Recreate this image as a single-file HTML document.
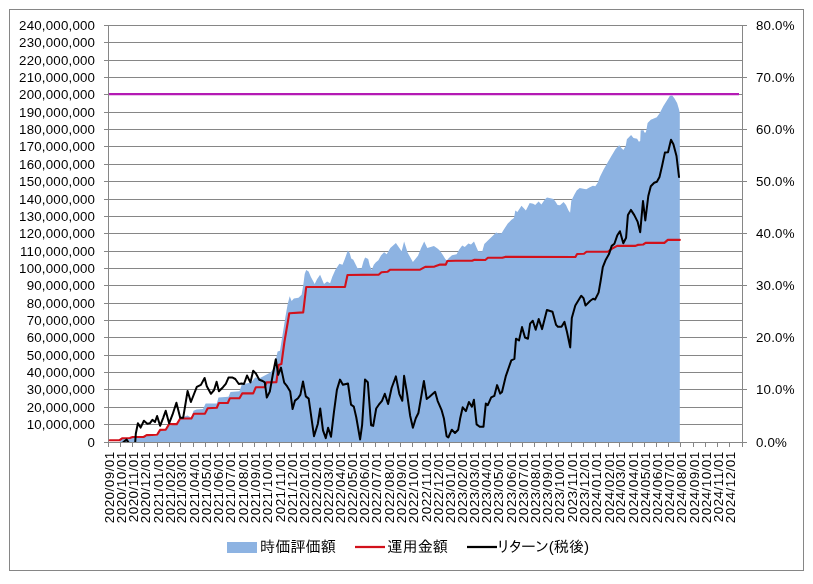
<!DOCTYPE html>
<html><head><meta charset="utf-8"><title>chart</title>
<style>html,body{margin:0;padding:0;background:#fff;}body{width:813px;height:584px;overflow:hidden;}svg{display:block;will-change:transform;}</style>
</head><body>
<svg width="813" height="584" viewBox="0 0 813 584"><defs><clipPath id="pa"><rect x="109" y="25" width="633" height="417"/></clipPath></defs><rect x="9.5" y="9.5" width="794" height="561" fill="#fff" stroke="#868686" stroke-width="1"/><path d="M104 25.5H743 M104 42.5H743 M104 60.5H743 M104 77.5H743 M104 94.5H743 M104 112.5H743 M104 129.5H743 M104 146.5H743 M104 164.5H743 M104 181.5H743 M104 199.5H743 M104 216.5H743 M104 233.5H743 M104 251.5H743 M104 268.5H743 M104 285.5H743 M104 303.5H743 M104 320.5H743 M104 337.5H743 M104 355.5H743 M104 372.5H743 M104 389.5H743 M104 407.5H743 M104 424.5H743 M104 442.5H743" stroke="#868686" stroke-width="1" fill="none" shape-rendering="crispEdges"/><polygon points="119.5,442.5 120.5,440.0 122.2,438.8 129.7,438.4 132.4,437.6 143.6,437.8 146.8,436.0 157.1,436.1 159.7,431.0 165.7,430.1 169.1,425.4 176.8,424.5 180.2,419.4 184.5,416.4 187.5,415.4 191.4,417.7 193.5,410.8 196.5,409.6 203.0,409.0 205.7,403.4 210.0,403.6 216.8,403.6 218.5,397.5 228.5,396.8 230.5,392.0 239.5,391.3 241.8,384.5 251.0,382.4 255.2,377.6 260.0,378.0 264.8,375.5 270.4,372.4 274.0,368.0 277.6,351.4 280.0,350.8 285.4,317.0 287.7,304.0 289.7,296.2 291.6,300.9 293.9,298.6 298.5,297.8 301.6,294.7 303.2,285.5 304.7,273.9 306.2,270.0 308.6,271.6 310.9,277.0 314.7,283.9 317.0,279.3 320.1,274.7 324.0,283.9 327.1,281.6 330.1,283.3 332.2,277.1 335.3,269.9 339.4,263.8 342.5,264.8 345.0,258.6 347.8,250.4 349.7,253.0 351.2,258.6 353.3,259.7 355.8,264.8 357.4,267.9 361.5,268.4 363.5,261.2 365.1,257.6 368.2,259.1 369.7,265.3 371.7,269.9 373.8,264.8 375.9,262.2 378.4,260.2 381.0,255.5 384.1,252.2 386.7,254.3 390.3,248.1 395.9,243.0 401.6,251.2 404.1,241.4 407.7,252.7 412.9,262.0 418.0,255.8 421.1,248.1 424.2,241.4 427.3,248.1 433.9,246.1 437.5,248.6 439.5,250.2 442.7,254.8 445.3,258.9 446.8,260.4 448.9,257.9 452.0,255.3 456.6,254.3 459.1,249.7 462.2,245.5 464.8,247.1 468.4,243.5 471.0,244.5 474.0,241.4 476.1,246.6 478.2,251.2 482.3,251.2 484.3,244.0 488.4,239.9 492.3,236.2 496.2,232.5 498.2,233.6 501.6,233.2 503.7,229.7 507.8,223.6 511.2,220.1 514.0,218.1 515.3,210.5 517.4,211.9 521.5,205.8 525.9,210.5 529.7,203.0 533.2,203.7 535.2,205.1 538.6,201.6 541.4,204.4 544.8,199.6 547.0,197.4 550.4,198.3 553.4,198.9 555.2,201.3 557.6,204.9 560.0,205.3 563.6,201.9 566.0,204.9 568.4,210.3 570.1,212.7 571.3,200.7 574.3,194.7 576.7,190.5 579.7,188.1 583.3,188.7 586.3,189.3 589.3,187.5 592.9,185.7 595.3,186.3 597.7,182.8 600.1,176.5 603.6,169.5 607.2,163.3 611.4,156.1 615.6,148.9 619.2,145.3 621.6,148.3 623.4,150.1 625.7,145.9 626.9,139.3 631.1,135.1 633.5,138.1 637.1,138.7 638.9,141.7 640.2,141.0 640.7,130.3 643.6,130.3 644.3,132.6 645.8,132.6 646.5,129.5 647.6,123.0 650.8,119.7 654.4,118.3 656.8,117.3 659.8,113.1 663.4,106.0 666.9,100.6 669.9,95.8 672.3,95.5 674.7,98.8 677.1,103.0 678.9,109.0 679.8,113.0 679.8,442.5" fill="#8DB3E2" stroke="none"/><path d="M108.5 25V443 M742.5 25V443 M108 442.5H743 M743 25.5H747 M743 77.5H747 M743 129.5H747 M743 181.5H747 M743 233.5H747 M743 285.5H747 M743 337.5H747 M743 389.5H747 M743 442.5H747 M108.5 443V447 M120.5 443V447 M132.5 443V447 M144.5 443V447 M157.5 443V447 M169.5 443V447 M180.5 443V447 M193.5 443V447 M205.5 443V447 M217.5 443V447 M229.5 443V447 M242.5 443V447 M254.5 443V447 M266.5 443V447 M279.5 443V447 M291.5 443V447 M303.5 443V447 M315.5 443V447 M327.5 443V447 M339.5 443V447 M351.5 443V447 M363.5 443V447 M375.5 443V447 M388.5 443V447 M400.5 443V447 M412.5 443V447 M425.5 443V447 M437.5 443V447 M449.5 443V447 M461.5 443V447 M473.5 443V447 M485.5 443V447 M497.5 443V447 M510.5 443V447 M522.5 443V447 M534.5 443V447 M546.5 443V447 M558.5 443V447 M571.5 443V447 M583.5 443V447 M595.5 443V447 M608.5 443V447 M619.5 443V447 M632.5 443V447 M644.5 443V447 M656.5 443V447 M668.5 443V447 M680.5 443V447 M693.5 443V447 M705.5 443V447 M717.5 443V447 M729.5 443V447 M742.5 443V447" stroke="#868686" stroke-width="1" fill="none" shape-rendering="crispEdges"/><line x1="109" y1="94" x2="739" y2="94" stroke="#B41AB4" stroke-width="2.25"/><polyline points="109.7,440.3 119.6,440.2 122.1,438.3 129.9,438.0 132.6,437.0 143.6,437.0 146.6,435.1 157.1,434.8 160.1,429.9 165.7,429.7 169.1,424.1 176.8,424.1 180.2,418.5 191.4,418.5 193.9,413.7 205.0,413.6 207.7,408.2 216.8,407.7 218.9,403.0 227.8,403.0 229.9,398.2 239.5,398.2 242.2,393.4 253.2,393.4 255.9,387.2 264.6,387.2 266.6,382.4 276.4,382.2 278.6,365.0 281.4,364.0 284.4,342.0 289.3,313.2 303.2,312.4 306.2,287.0 345.0,286.9 347.5,275.0 378.9,274.6 381.5,272.2 387.7,271.7 390.3,269.7 420.1,269.7 425.2,266.9 434.5,266.6 440.1,264.6 445.8,264.6 447.3,261.0 455.5,260.8 472.0,260.8 474.6,259.7 485.3,260.0 487.9,257.7 502.3,257.8 505.1,256.9 575.4,257.0 577.1,254.0 584.0,253.8 586.5,251.8 607.6,251.8 613.1,248.0 617.2,245.9 635.0,245.9 637.7,244.9 643.2,244.5 646.0,242.7 664.4,242.9 667.8,239.9 679.8,239.9" fill="none" stroke="#D2111B" stroke-width="2.1" stroke-linejoin="round" stroke-linecap="round"/><polyline clip-path="url(#pa)" points="108.6,447.0 122.6,447.0 123.2,442.3 126.6,439.6 128.6,442.5 129.5,447.0 134.5,447.0 135.2,442.5 135.8,433.8 137.9,423.2 140.6,427.6 143.9,420.7 147.3,423.7 149.8,423.3 152.4,419.8 155.0,422.0 157.1,416.0 160.1,425.8 163.1,418.1 165.7,410.8 169.1,423.3 172.5,414.7 176.4,402.7 180.2,417.7 183.2,417.7 187.6,391.0 190.9,402.0 196.8,386.9 200.9,384.9 204.6,378.0 206.8,386.2 210.9,393.8 214.1,390.0 216.6,381.7 218.9,391.3 223.0,387.2 225.8,383.8 228.5,377.6 232.6,377.6 235.3,379.0 238.8,384.0 241.5,383.5 244.0,384.0 247.0,375.5 250.4,382.4 253.2,370.8 255.9,373.5 259.3,379.7 262.7,381.0 264.8,382.4 266.8,397.5 269.8,391.6 272.8,374.8 275.8,359.2 278.2,374.8 281.0,367.6 284.2,382.6 286.6,385.6 290.2,391.6 292.6,409.0 295.0,400.6 298.0,398.2 300.4,394.6 303.0,381.4 305.8,396.4 308.7,398.6 314.0,436.2 317.8,424.0 320.2,408.5 323.0,430.4 325.8,438.1 328.1,427.8 331.0,436.8 333.9,412.4 336.9,389.9 340.0,379.6 342.9,384.8 348.0,383.5 351.0,404.7 353.8,406.6 356.3,417.5 360.1,439.4 362.1,425.2 365.0,379.6 367.8,382.2 371.1,425.2 373.2,425.9 376.2,408.5 378.8,404.7 382.0,400.8 384.8,393.8 388.1,404.0 391.6,388.0 395.9,376.4 399.3,393.8 402.3,400.8 404.1,375.8 407.0,393.1 410.2,416.0 412.9,427.8 415.8,418.2 418.4,413.0 423.9,380.9 426.7,398.9 429.3,397.0 435.1,391.8 437.6,400.8 441.5,409.8 444.0,418.8 446.6,436.2 448.3,437.5 451.8,429.7 455.0,433.0 458.2,429.7 460.1,418.8 462.7,407.3 465.9,411.1 468.9,402.0 471.9,406.7 473.9,399.7 476.6,424.4 479.7,426.7 483.5,426.7 485.8,403.6 487.8,405.1 491.2,397.4 494.3,395.9 497.1,385.1 500.2,393.6 502.0,392.0 505.9,375.8 511.3,360.4 514.4,358.9 516.0,338.7 519.0,340.5 522.0,327.1 525.0,337.5 528.0,338.7 530.1,323.7 532.8,320.7 535.7,329.7 538.7,319.0 542.1,329.1 546.9,310.0 552.5,311.8 556.1,324.9 557.9,326.7 561.5,326.7 564.5,321.9 567.0,332.0 570.2,347.4 571.8,318.0 575.3,305.6 581.2,295.8 583.5,298.1 585.5,305.6 590.3,300.8 593.1,298.8 595.1,299.5 598.6,292.6 600.7,280.5 602.8,267.1 605.5,260.3 609.0,254.1 611.7,245.9 614.4,243.8 617.2,235.6 619.9,231.2 623.3,243.2 626.1,237.7 627.9,215.1 630.9,209.9 634.3,215.1 637.7,221.9 640.2,232.2 643.0,201.0 645.3,220.5 648.3,196.0 650.8,186.2 654.2,182.7 656.9,181.8 659.5,177.0 662.1,165.8 664.9,152.6 668.0,152.2 671.0,139.8 673.4,144.2 676.5,156.0 679.0,177.0" fill="none" stroke="#000" stroke-width="2.0" stroke-linejoin="round" stroke-linecap="round"/><g font-family='"Liberation Sans", Arial, sans-serif' font-size="13.3" letter-spacing="0.2" fill="#000"><text x="95.2" y="30.1" text-anchor="end">240,000,000</text><text x="95.2" y="47.1" text-anchor="end">230,000,000</text><text x="95.2" y="65.1" text-anchor="end">220,000,000</text><text x="95.2" y="82.1" text-anchor="end">210,000,000</text><text x="95.2" y="99.1" text-anchor="end">200,000,000</text><text x="95.2" y="117.1" text-anchor="end">190,000,000</text><text x="95.2" y="134.1" text-anchor="end">180,000,000</text><text x="95.2" y="151.1" text-anchor="end">170,000,000</text><text x="95.2" y="169.1" text-anchor="end">160,000,000</text><text x="95.2" y="186.1" text-anchor="end">150,000,000</text><text x="95.2" y="204.1" text-anchor="end">140,000,000</text><text x="95.2" y="221.1" text-anchor="end">130,000,000</text><text x="95.2" y="238.1" text-anchor="end">120,000,000</text><text x="95.2" y="256.1" text-anchor="end">110,000,000</text><text x="95.2" y="273.1" text-anchor="end">100,000,000</text><text x="95.2" y="290.1" text-anchor="end">90,000,000</text><text x="95.2" y="308.1" text-anchor="end">80,000,000</text><text x="95.2" y="325.1" text-anchor="end">70,000,000</text><text x="95.2" y="342.1" text-anchor="end">60,000,000</text><text x="95.2" y="360.1" text-anchor="end">50,000,000</text><text x="95.2" y="377.1" text-anchor="end">40,000,000</text><text x="95.2" y="394.1" text-anchor="end">30,000,000</text><text x="95.2" y="412.1" text-anchor="end">20,000,000</text><text x="95.2" y="429.1" text-anchor="end">10,000,000</text><text x="95.2" y="447.1" text-anchor="end">0</text><text x="756" y="30.1">80.0%</text><text x="756" y="82.1">70.0%</text><text x="756" y="134.1">60.0%</text><text x="756" y="186.1">50.0%</text><text x="756" y="238.1">40.0%</text><text x="756" y="290.1">30.0%</text><text x="756" y="342.1">20.0%</text><text x="756" y="394.1">10.0%</text><text x="756" y="447.1">0.0%</text></g><g font-family='"Liberation Sans", Arial, sans-serif' font-size="13.5" letter-spacing="0.45" fill="#000"><text transform="translate(113.5,451.2) rotate(-90)" text-anchor="end">2020/09/01</text><text transform="translate(125.5,451.2) rotate(-90)" text-anchor="end">2020/10/01</text><text transform="translate(137.5,451.2) rotate(-90)" text-anchor="end">2020/11/01</text><text transform="translate(149.5,451.2) rotate(-90)" text-anchor="end">2020/12/01</text><text transform="translate(162.5,451.2) rotate(-90)" text-anchor="end">2021/01/01</text><text transform="translate(174.5,451.2) rotate(-90)" text-anchor="end">2021/02/01</text><text transform="translate(185.5,451.2) rotate(-90)" text-anchor="end">2021/03/01</text><text transform="translate(198.5,451.2) rotate(-90)" text-anchor="end">2021/04/01</text><text transform="translate(210.5,451.2) rotate(-90)" text-anchor="end">2021/05/01</text><text transform="translate(222.5,451.2) rotate(-90)" text-anchor="end">2021/06/01</text><text transform="translate(234.5,451.2) rotate(-90)" text-anchor="end">2021/07/01</text><text transform="translate(247.5,451.2) rotate(-90)" text-anchor="end">2021/08/01</text><text transform="translate(259.5,451.2) rotate(-90)" text-anchor="end">2021/09/01</text><text transform="translate(271.5,451.2) rotate(-90)" text-anchor="end">2021/10/01</text><text transform="translate(284.5,451.2) rotate(-90)" text-anchor="end">2021/11/01</text><text transform="translate(296.5,451.2) rotate(-90)" text-anchor="end">2021/12/01</text><text transform="translate(308.5,451.2) rotate(-90)" text-anchor="end">2022/01/01</text><text transform="translate(320.5,451.2) rotate(-90)" text-anchor="end">2022/02/01</text><text transform="translate(332.5,451.2) rotate(-90)" text-anchor="end">2022/03/01</text><text transform="translate(344.5,451.2) rotate(-90)" text-anchor="end">2022/04/01</text><text transform="translate(356.5,451.2) rotate(-90)" text-anchor="end">2022/05/01</text><text transform="translate(368.5,451.2) rotate(-90)" text-anchor="end">2022/06/01</text><text transform="translate(380.5,451.2) rotate(-90)" text-anchor="end">2022/07/01</text><text transform="translate(393.5,451.2) rotate(-90)" text-anchor="end">2022/08/01</text><text transform="translate(405.5,451.2) rotate(-90)" text-anchor="end">2022/09/01</text><text transform="translate(417.5,451.2) rotate(-90)" text-anchor="end">2022/10/01</text><text transform="translate(430.5,451.2) rotate(-90)" text-anchor="end">2022/11/01</text><text transform="translate(442.5,451.2) rotate(-90)" text-anchor="end">2022/12/01</text><text transform="translate(454.5,451.2) rotate(-90)" text-anchor="end">2023/01/01</text><text transform="translate(466.5,451.2) rotate(-90)" text-anchor="end">2023/02/01</text><text transform="translate(478.5,451.2) rotate(-90)" text-anchor="end">2023/03/01</text><text transform="translate(490.5,451.2) rotate(-90)" text-anchor="end">2023/04/01</text><text transform="translate(502.5,451.2) rotate(-90)" text-anchor="end">2023/05/01</text><text transform="translate(515.5,451.2) rotate(-90)" text-anchor="end">2023/06/01</text><text transform="translate(527.5,451.2) rotate(-90)" text-anchor="end">2023/07/01</text><text transform="translate(539.5,451.2) rotate(-90)" text-anchor="end">2023/08/01</text><text transform="translate(551.5,451.2) rotate(-90)" text-anchor="end">2023/09/01</text><text transform="translate(563.5,451.2) rotate(-90)" text-anchor="end">2023/10/01</text><text transform="translate(576.5,451.2) rotate(-90)" text-anchor="end">2023/11/01</text><text transform="translate(588.5,451.2) rotate(-90)" text-anchor="end">2023/12/01</text><text transform="translate(600.5,451.2) rotate(-90)" text-anchor="end">2024/01/01</text><text transform="translate(613.5,451.2) rotate(-90)" text-anchor="end">2024/02/01</text><text transform="translate(624.5,451.2) rotate(-90)" text-anchor="end">2024/03/01</text><text transform="translate(637.5,451.2) rotate(-90)" text-anchor="end">2024/04/01</text><text transform="translate(649.5,451.2) rotate(-90)" text-anchor="end">2024/05/01</text><text transform="translate(661.5,451.2) rotate(-90)" text-anchor="end">2024/06/01</text><text transform="translate(673.5,451.2) rotate(-90)" text-anchor="end">2024/07/01</text><text transform="translate(685.5,451.2) rotate(-90)" text-anchor="end">2024/08/01</text><text transform="translate(698.5,451.2) rotate(-90)" text-anchor="end">2024/09/01</text><text transform="translate(710.5,451.2) rotate(-90)" text-anchor="end">2024/10/01</text><text transform="translate(722.5,451.2) rotate(-90)" text-anchor="end">2024/11/01</text><text transform="translate(734.5,451.2) rotate(-90)" text-anchor="end">2024/12/01</text></g><rect x="227" y="542" width="30" height="11" fill="#8DB3E2"/><line x1="355" y1="547" x2="385" y2="547" stroke="#D2111B" stroke-width="2.25"/><line x1="467" y1="547" x2="497" y2="547" stroke="#000" stroke-width="2.25"/><g font-family='"Liberation Sans", "IPAPGothic", "IPAGothic", "Noto Sans CJK JP", sans-serif' font-size="15.2" fill="#000"><text x="260" y="551.5">時価評価額</text><text x="387.3" y="551.5">運用金額</text><text x="497.5" y="551.5">リターン(税後)</text></g></svg>
</body></html>
